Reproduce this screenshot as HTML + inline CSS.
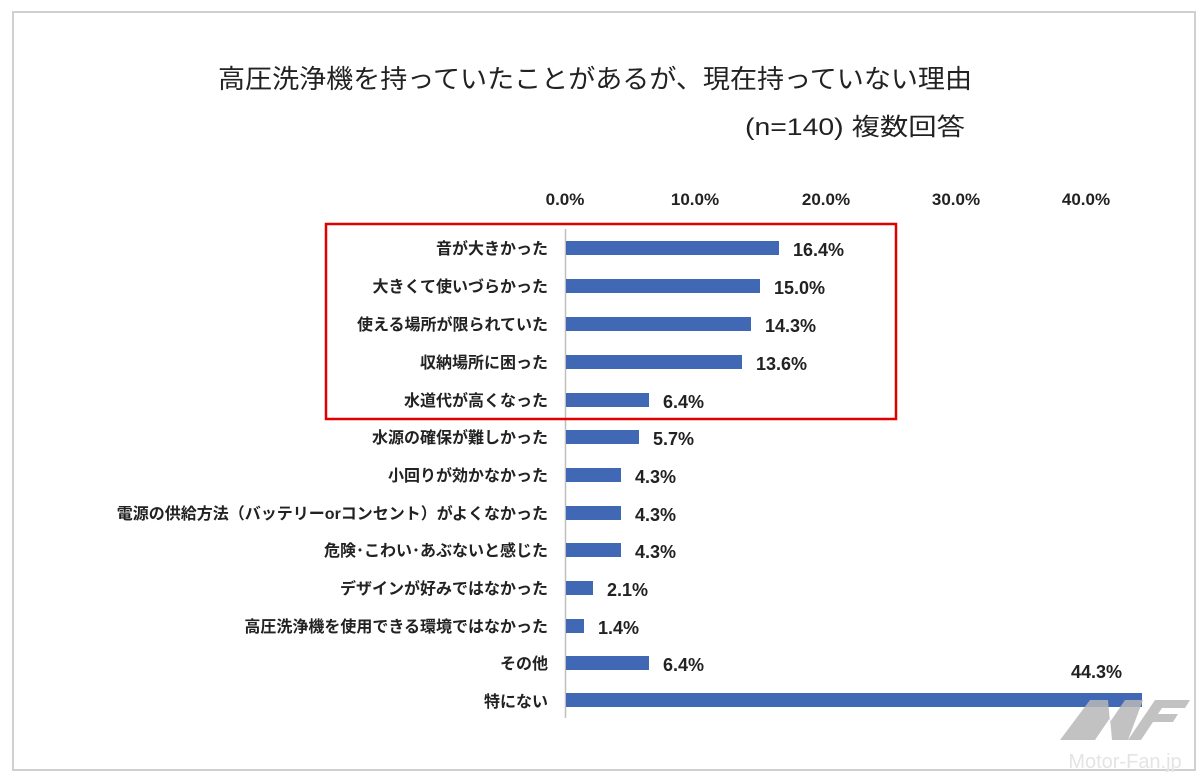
<!DOCTYPE html><html><head><meta charset="utf-8"><style>body{margin:0;background:#fff}svg{display:block}text{font-family:"Liberation Sans","Noto Sans CJK JP",sans-serif}</style></head><body>
<svg width="1200" height="777" xmlns="http://www.w3.org/2000/svg">
<rect x="0" y="0" width="1200" height="777" fill="#fff"/>
<rect x="13" y="12" width="1182" height="758" fill="none" stroke="#d0d0d0" stroke-width="2"/>
<text x="595" y="88" font-size="26" text-anchor="middle" fill="#222" textLength="754" lengthAdjust="spacingAndGlyphs">高圧洗浄機を持っていたことがあるが、現在持っていない理由</text>
<text x="745" y="135" font-size="24" fill="#222" textLength="220" lengthAdjust="spacingAndGlyphs">(n=140) 複数回答</text>
<g font-size="17" font-weight="bold" text-anchor="middle" fill="#222">
<text x="565" y="205">0.0%</text><text x="695" y="205">10.0%</text><text x="826" y="205">20.0%</text><text x="956" y="205">30.0%</text><text x="1086" y="205">40.0%</text>
</g>
<line x1="565.5" y1="229" x2="565.5" y2="718" stroke="#bfbfbf" stroke-width="1.5"/>
<g font-size="16" font-weight="bold" text-anchor="end" fill="#222">
<text x="548" y="254">音が大きかった</text>
<text x="548" y="292">大きくて使いづらかった</text>
<text x="548" y="330">使える場所が限られていた</text>
<text x="548" y="368">収納場所に困った</text>
<text x="548" y="406">水道代が高くなった</text>
<text x="548" y="443">水源の確保が難しかった</text>
<text x="548" y="481">小回りが効かなかった</text>
<text x="548" y="519">電源の供給方法（バッテリーorコンセント）がよくなかった</text>
<text x="548" y="556">危険･こわい･あぶないと感じた</text>
<text x="548" y="594">デザインが好みではなかった</text>
<text x="548" y="632">高圧洗浄機を使用できる環境ではなかった</text>
<text x="548" y="669">その他</text>
<text x="548" y="707">特にない</text>
</g>
<g fill="#4068b4">
<rect x="566" y="241" width="213" height="14"/>
<rect x="566" y="279" width="194" height="14"/>
<rect x="566" y="317" width="185" height="14"/>
<rect x="566" y="355" width="176" height="14"/>
<rect x="566" y="393" width="83" height="14"/>
<rect x="566" y="430" width="73" height="14"/>
<rect x="566" y="468" width="55" height="14"/>
<rect x="566" y="506" width="55" height="14"/>
<rect x="566" y="543" width="55" height="14"/>
<rect x="566" y="581" width="27" height="14"/>
<rect x="566" y="619" width="18" height="14"/>
<rect x="566" y="656" width="83" height="14"/>
<rect x="566" y="693" width="576" height="14"/>
</g>
<g font-size="18" font-weight="bold" fill="#222">
<text x="793" y="256">16.4%</text>
<text x="774" y="294">15.0%</text>
<text x="765" y="332">14.3%</text>
<text x="756" y="370">13.6%</text>
<text x="663" y="408">6.4%</text>
<text x="653" y="445">5.7%</text>
<text x="635" y="483">4.3%</text>
<text x="635" y="521">4.3%</text>
<text x="635" y="558">4.3%</text>
<text x="607" y="596">2.1%</text>
<text x="598" y="634">1.4%</text>
<text x="663" y="671">6.4%</text>
<text x="1071" y="678">44.3%</text>
</g>
<rect x="326" y="224" width="570" height="195" fill="none" stroke="#e00000" stroke-width="2.5"/>
<g fill="#b8b8b8" opacity="0.85">
<polygon points="1060,740 1090,700 1108,700 1110,722 1125,700 1143,700 1128,740 1112,740 1110,718 1095,740"/>
<polygon points="1128,740 1155,700 1190,700 1185,708 1162,708 1158,714 1178,714 1173,722 1153,722 1141,740"/>
</g>
<text x="1125" y="768" font-size="20" text-anchor="middle" fill="#e4e4e4">Motor-Fan.jp</text>
</svg>
</body></html>
